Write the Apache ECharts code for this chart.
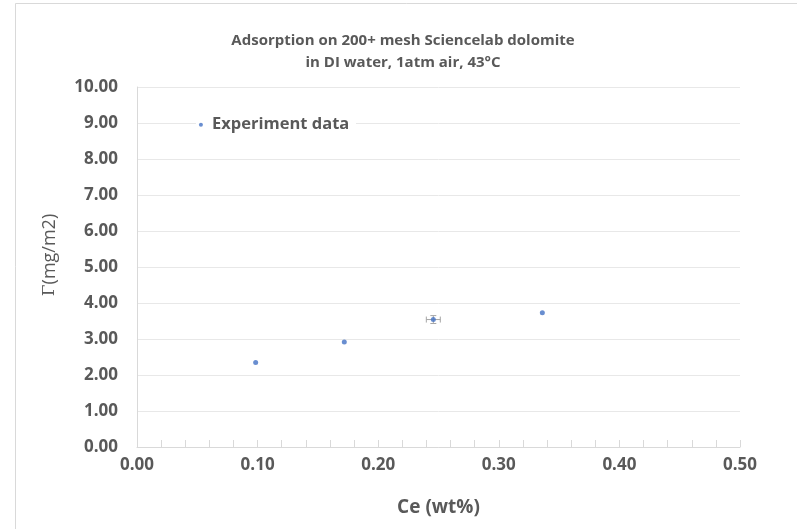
<!DOCTYPE html>
<html>
<head>
<meta charset="utf-8">
<script src="https://cdn.jsdelivr.net/npm/echarts@6/dist/echarts.min.js"></script>
<style>
  html, body { margin: 0; padding: 0; background: #fff; }
  #chart { width: 797px; height: 529px; }
</style>
</head>
<body>
<div id="chart"></div>
<script>
// experiment data (Ce in wt%, Gamma in mg/m2)
const ceValues = [0.0984, 0.1719, 0.2457, 0.3361];
const gammaValues = [2.35, 2.92, 3.54, 3.73];
// error bars, only the third point has visible ones
const ceErr = [0, 0, 0.0058, 0];
const gammaErr = [0, 0, 0.11, 0];
const legendPoint = [0.053, 8.95];

const font = '"Open Sans", "Noto Sans", sans-serif';
const textColor = '#595959';

let points = [];
let errData = [];
for (let i = 0; i < ceValues.length; i++) {
  points.push([ceValues[i], gammaValues[i]]);
  if (ceErr[i] > 0 || gammaErr[i] > 0) {
    errData.push([ceValues[i], gammaValues[i], ceErr[i], gammaErr[i]]);
  }
}

let chart = echarts.init(document.getElementById('chart'));
chart.setOption({
  animation: false,
  backgroundColor: '#fff',
  title: {
    text: 'Adsorption on 200+ mesh Sciencelab dolomite\nin DI water, 1atm air, 43°C',
    left: 398,
    top: 25,
    textAlign: 'center',
    textStyle: {
      fontFamily: font,
      fontSize: 15,
      fontWeight: 'bold',
      color: textColor,
      lineHeight: 22
    }
  },
  graphic: [
    {
      type: 'rect',
      shape: { x: 15.5, y: 3.5, width: 800, height: 540 },
      style: { fill: 'none', stroke: '#d9d9d9', lineWidth: 1 },
      silent: true
    },
    {
      type: 'rect',
      z: 5,
      shape: { x: 196, y: 113, width: 160, height: 24 },
      style: { fill: '#fff' },
      silent: true
    },
    {
      type: 'text',
      z: 6,
      left: 212,
      top: 116,
      style: {
        text: 'Experiment data',
        fontFamily: font,
        fontSize: 16.5,
        fontWeight: 'bold',
        fill: textColor
      }
    },
    {
      type: 'text',
      z: 6,
      x: 50,
      y: 255,
      rotation: Math.PI / 2,
      style: {
        text: '{g|Γ}(mg/m2)',
        rich: {
          g: { fontFamily: '"DejaVu Serif", serif', fontSize: 17, fill: textColor }
        },
        fontFamily: font,
        fontSize: 18,
        fill: textColor,
        align: 'center',
        verticalAlign: 'middle'
      }
    }
  ],
  grid: { left: 137, right: 57, top: 87, bottom: 82 },
  xAxis: {
    type: 'value',
    min: 0,
    max: 0.5,
    interval: 0.1,
    name: 'Ce (wt%)',
    nameLocation: 'middle',
    nameGap: 51,
    nameTextStyle: { fontFamily: font, fontSize: 19, fontWeight: 'bold', color: textColor },
    axisLine: { lineStyle: { color: '#d9d9d9' } },
    axisTick: { show: true, inside: true, length: 7, lineStyle: { color: '#d9d9d9' } },
    minorTick: { show: true, splitNumber: 5, length: 7, lineStyle: { color: '#d9d9d9' } },
    splitLine: { show: false },
    axisLabel: {
      margin: 10,
      fontFamily: font,
      fontSize: 17,
      fontWeight: 'bold',
      color: textColor,
      formatter: v => v.toFixed(2)
    }
  },
  yAxis: {
    type: 'value',
    min: 0,
    max: 10,
    interval: 1,
    axisLine: { show: true, lineStyle: { color: '#d9d9d9' } },
    axisTick: { show: false },
    splitLine: { lineStyle: { color: '#e8e8e8' } },
    axisLabel: {
      margin: 19,
      fontFamily: font,
      fontSize: 17,
      fontWeight: 'bold',
      color: textColor,
      formatter: v => v.toFixed(2)
    }
  },
  series: [
    {
      name: 'errors',
      type: 'custom',
      z: 1,
      renderItem: function (params, api) {
        let x = api.value(0), y = api.value(1), dx = api.value(2), dy = api.value(3);
        let l = api.coord([x - dx, y]);
        let r = api.coord([x + dx, y]);
        let b = api.coord([x, y - dy]);
        let t = api.coord([x, y + dy]);
        let st = { stroke: '#a6a6a6', lineWidth: 1 };
        return {
          type: 'group',
          children: [
            { type: 'line', shape: { x1: l[0], y1: l[1], x2: r[0], y2: r[1] }, style: st },
            { type: 'line', shape: { x1: l[0], y1: l[1] - 3, x2: l[0], y2: l[1] + 3 }, style: st },
            { type: 'line', shape: { x1: r[0], y1: r[1] - 3, x2: r[0], y2: r[1] + 3 }, style: st },
            { type: 'line', shape: { x1: b[0], y1: b[1], x2: t[0], y2: t[1] }, style: st },
            { type: 'line', shape: { x1: b[0] - 3, y1: b[1], x2: b[0] + 3, y2: b[1] }, style: st },
            { type: 'line', shape: { x1: t[0] - 3, y1: t[1], x2: t[0] + 3, y2: t[1] }, style: st }
          ]
        };
      },
      data: errData
    },
    {
      name: 'Experiment data',
      type: 'scatter',
      z: 3,
      symbolSize: 5,
      itemStyle: { color: '#4472c4' },
      data: points
    },
    {
      name: 'legend',
      type: 'scatter',
      z: 10,
      zlevel: 1,
      symbolSize: 4,
      itemStyle: { color: '#4472c4' },
      data: [legendPoint]
    }
  ]
});
</script>
</body>
</html>
